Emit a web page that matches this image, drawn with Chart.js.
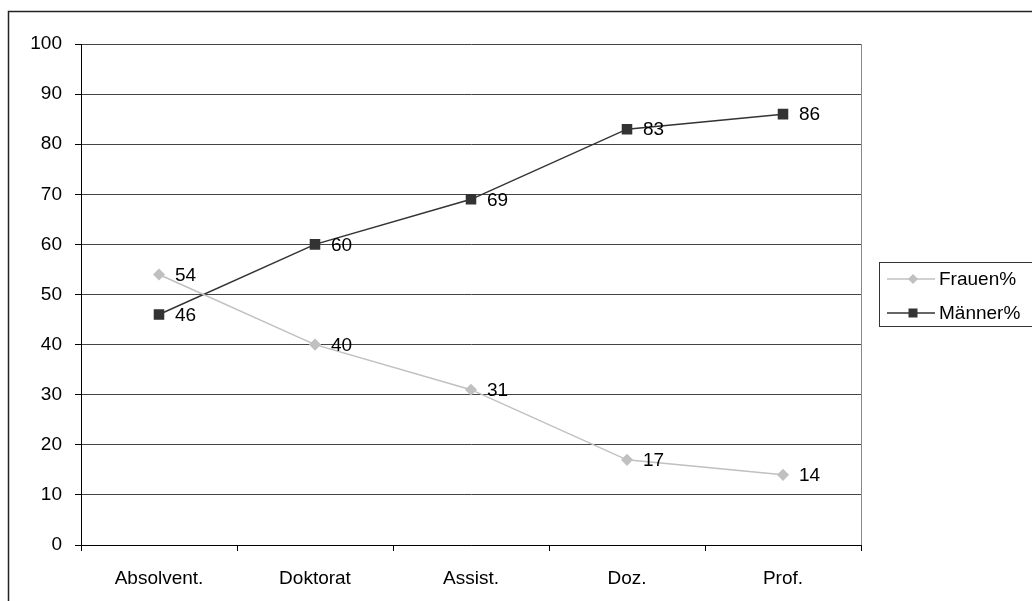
<!DOCTYPE html>
<html>
<head>
<meta charset="utf-8">
<script src="https://cdn.jsdelivr.net/npm/chart.js@4.4.0/dist/chart.umd.min.js"></script>
<style>
html,body{margin:0;padding:0;background:#fff;}
#wrap{width:1032px;height:601px;position:relative;}
</style>
</head>
<body>
<div id="wrap"><canvas id="c" width="1032" height="601"></canvas></div>
<script>
const categories = ["Absolvent.", "Doktorat", "Assist.", "Doz.", "Prof."];
const frauen = [54, 40, 31, 17, 14];
const maenner = [46, 60, 69, 83, 86];
const seriesNames = ["Frauen%", "Männer%"];
const yTicks = [0, 10, 20, 30, 40, 50, 60, 70, 80, 90, 100];

const FONT = "'Liberation Sans', Arial, sans-serif";
const FS = 19;

const decorPlugin = {
  id: 'decor',
  beforeDraw(chart) {
    const ctx = chart.ctx;
    ctx.save();
    ctx.fillStyle = '#fff';
    ctx.fillRect(0, 0, chart.width, chart.height);
    ctx.strokeStyle = '#222';
    ctx.lineWidth = 1.5;
    ctx.beginPath();
    ctx.moveTo(8.5, chart.height + 5);
    ctx.lineTo(8.5, 11.5);
    ctx.lineTo(chart.width + 5, 11.5);
    ctx.stroke();
    ctx.restore();
  },
  afterDatasetsDraw(chart) {
    const ctx = chart.ctx;
    const a = chart.chartArea;
    ctx.save();
    ctx.strokeStyle = '#888';
    ctx.lineWidth = 1;
    ctx.beginPath();
    ctx.moveTo(Math.round(a.right) + 0.5, a.top);
    ctx.lineTo(Math.round(a.right) + 0.5, a.bottom);
    ctx.stroke();
    ctx.fillStyle = '#000';
    ctx.font = FS + 'px ' + FONT;
    ctx.textAlign = 'left';
    ctx.textBaseline = 'middle';
    chart.data.datasets.forEach((ds, di) => {
      const meta = chart.getDatasetMeta(di);
      meta.data.forEach((pt, i) => {
        ctx.fillText(String(ds.data[i]), pt.x + 16, pt.y + 1);
      });
    });
    const lx = 879.5, ly = 262.5;
    ctx.strokeStyle = '#333';
    ctx.lineWidth = 1;
    ctx.strokeRect(lx, ly, 200, 64);
    const rows = [279, 313];
    chart.data.datasets.forEach((ds, di) => {
      const y = rows[di];
      ctx.strokeStyle = ds.borderColor;
      ctx.lineWidth = 1.5;
      ctx.beginPath();
      ctx.moveTo(887, y);
      ctx.lineTo(935, y);
      ctx.stroke();
      ctx.fillStyle = ds.pointBackgroundColor;
      ctx.beginPath();
      if (ds.pointStyle === 'rect') {
        ctx.rect(913 - 4.5, y - 4.5, 9, 9);
      } else {
        ctx.moveTo(913, y - 5);
        ctx.lineTo(918, y);
        ctx.lineTo(913, y + 5);
        ctx.lineTo(908, y);
        ctx.closePath();
      }
      ctx.fill();
      ctx.fillStyle = '#000';
      ctx.font = FS + 'px ' + FONT;
      ctx.textAlign = 'left';
      ctx.textBaseline = 'middle';
      ctx.fillText(ds.label, 939, y + 1);
    });
    ctx.restore();
  }
};

new Chart(document.getElementById('c'), {
  type: 'line',
  data: {
    labels: categories,
    datasets: [
      {
        label: seriesNames[0],
        data: frauen,
        borderColor: '#c0c0c0',
        backgroundColor: '#c0c0c0',
        pointBackgroundColor: '#c0c0c0',
        pointBorderColor: '#c0c0c0',
        pointStyle: 'rectRot',
        pointRadius: 5,
        borderWidth: 1.5,
        tension: 0
      },
      {
        label: seriesNames[1],
        data: maenner,
        borderColor: '#333',
        backgroundColor: '#333',
        pointBackgroundColor: '#333',
        pointBorderColor: '#333',
        pointStyle: 'rect',
        pointRadius: 6.4,
        borderWidth: 1.5,
        tension: 0
      }
    ]
  },
  options: {
    responsive: false,
    animation: false,
    devicePixelRatio: 1,
    layout: { padding: { left: 0, right: 171, top: 44, bottom: 0 } },
    plugins: { legend: { display: false }, tooltip: { enabled: false } },
    scales: {
      x: {
        offset: true,
        afterFit(s) { s.height = 56; },
        grid: {
          offset: true,
          drawOnChartArea: false,
          drawTicks: true,
          tickLength: 6,
          color: '#000'
        },
        border: { color: '#000', width: 1 },
        ticks: {
          color: '#000',
          font: { family: FONT, size: FS },
          padding: 16,
          maxRotation: 0
        }
      },
      y: {
        min: 0,
        max: 100,
        afterFit(s) { s.width = 81; },
        afterBuildTicks(s) { s.ticks = yTicks.map(v => ({ value: v })); },
        grid: {
          color: '#444',
          lineWidth: 1,
          drawTicks: true,
          tickLength: 6,
          tickColor: '#000'
        },
        border: { color: '#000', width: 1 },
        ticks: {
          color: '#000',
          font: { family: FONT, size: FS },
          padding: 13
        }
      }
    }
  },
  plugins: [decorPlugin]
});
</script>
</body>
</html>
